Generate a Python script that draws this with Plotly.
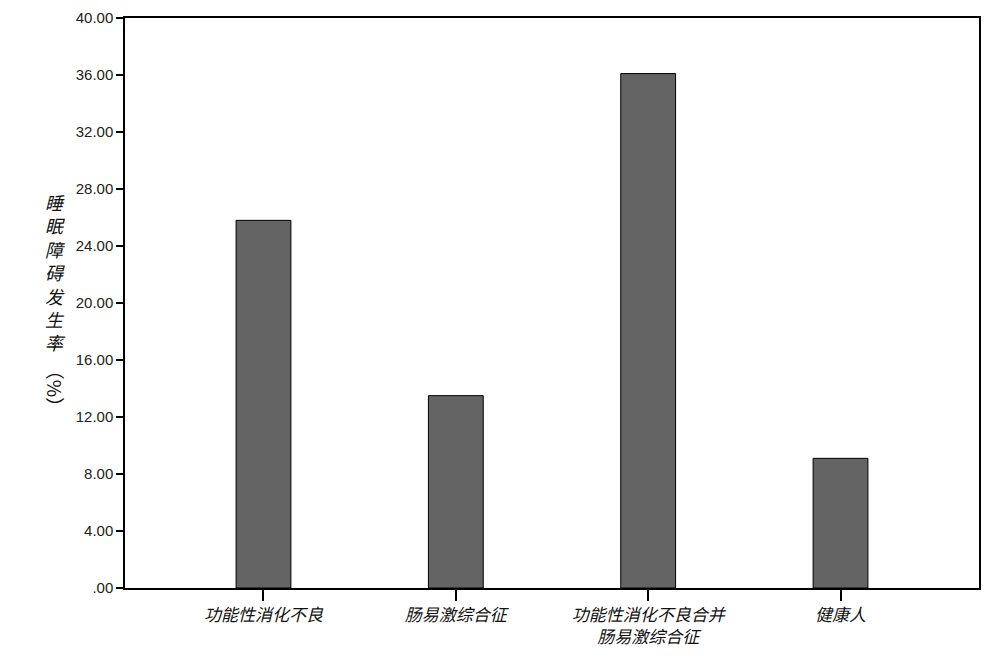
import plotly.graph_objects as go

# 数据
groups = ["功能性消化不良", "肠易激综合征", "功能性消化不良合并<br>肠易激综合征", "健康人"]
rates = [25.8, 13.5, 36.1, 9.1]
y_ticks = [0, 4, 8, 12, 16, 20, 24, 28, 32, 36, 40]
y_tick_labels = [".00", "4.00", "8.00", "12.00", "16.00", "20.00", "24.00",
                 "28.00", "32.00", "36.00", "40.00"]

fig = go.Figure(go.Bar(
    x=list(range(len(groups))),
    y=rates,
    width=0.285,
    marker=dict(color="#646464", line=dict(color="#000000", width=1)),
))

cjk = "Noto Sans CJK SC"

# 页面自带 8px 边距，尺寸略小以免出现滚动条
fig.update_layout(
    width=990, height=648,
    margin=dict(l=117, r=19, t=10, b=68),
    plot_bgcolor="white", paper_bgcolor="white",
    showlegend=False,
    xaxis=dict(
        range=[-0.72, 3.72],
        tickvals=list(range(len(groups))),
        ticktext=groups,
        ticks="outside", ticklen=11, tickwidth=1.5, tickcolor="black",
        showline=True, linecolor="black", linewidth=1.5, mirror=True,
        showgrid=False, zeroline=False, automargin=False,
        tickfont=dict(family=cjk, size=17, color="#111111", style="italic"),
    ),
    yaxis=dict(
        range=[0, 40],
        tickvals=y_ticks,
        ticktext=y_tick_labels,
        ticks="outside", ticklen=7, tickwidth=1.5, tickcolor="black",
        showline=True, linecolor="black", linewidth=1.5, mirror=True,
        showgrid=False, zeroline=False, automargin=False,
        tickfont=dict(family="Liberation Sans, Arial", size=15, color="#222222"),
    ),
    annotations=[
        dict(
            text="睡<br>眠<br>障<br>碍<br>发<br>生<br>率",
            xref="paper", yref="paper", x=-0.081, y=0.555,
            xanchor="center", yanchor="middle", showarrow=False,
            font=dict(family=cjk, size=18, color="#111111", style="italic"),
        ),
        dict(
            text="（%）",
            xref="paper", yref="paper", x=-0.081, y=0.35,
            xanchor="center", yanchor="middle", showarrow=False, textangle=90,
            font=dict(family=cjk, size=19, color="#111111"),
        ),
    ],
)

fig.write_html("out.html")
